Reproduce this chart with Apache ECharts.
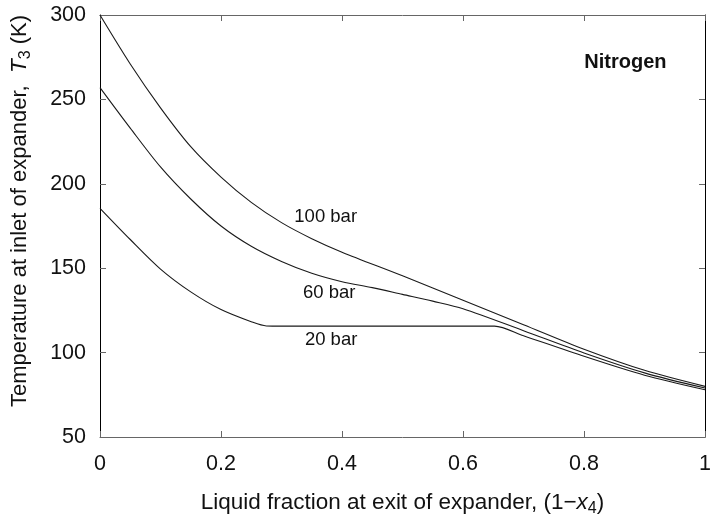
<!DOCTYPE html>
<html>
<head>
<meta charset="utf-8">
<script src="https://cdn.jsdelivr.net/npm/echarts@6/dist/echarts.min.js"></script>
<style>
html,body{margin:0;padding:0;background:#fff;}
#chart{width:714px;height:522px;}
</style>
</head>
<body>
<div id="chart"></div>
<script>
// Data
var seriesNames = ['100 bar', '60 bar', '20 bar'];
var x100 = [0, 0.05, 0.1, 0.15, 0.2, 0.25, 0.3, 0.35, 0.4, 0.5, 0.6, 0.7, 0.8, 0.9, 1];
var y100 = [300, 271, 245, 222, 204, 189, 177, 167.5, 159.5, 145.5, 131, 116.5, 102, 89.5, 80];
var x60 = [0, 0.05, 0.1, 0.15, 0.2, 0.25, 0.3, 0.35, 0.4, 0.45, 0.5, 0.55, 0.6, 0.7, 0.8, 0.9, 1];
var y60 = [257, 233, 210, 191, 175, 163, 154, 147, 142, 138.5, 134.5, 130.5, 126, 113, 99.8, 88, 79];
var x20 = [0, 0.05, 0.1, 0.15, 0.2, 0.25, 0.275, 0.3, 0.45, 0.652, 0.7, 0.8, 0.9, 1];
var y20 = [185.5, 167, 149.5, 136, 125.5, 118.3, 115.8, 115.7, 115.7, 115.7, 110, 97.8, 86.6, 78];
var labelTexts = ['100 bar', '60 bar', '20 bar', 'Nitrogen'];
var labelX = [0.373, 0.379, 0.382, 0.8685];
var labelY = [180.5, 135.3, 107.6, 271.6];
var xTicks = [0, 0.2, 0.4, 0.6, 0.8, 1];
var yTicks = [50, 100, 150, 200, 250, 300];

function zip(xs, ys) { return xs.map(function (v, i) { return [v, ys[i]]; }); }

var FONT = '"Liberation Sans", Arial, Helvetica, sans-serif';
var chart = echarts.init(document.getElementById('chart'), null, {renderer: 'canvas'});

var lineStyle = {color: '#1a1a1a', width: 1.1};
function mkSeries(name, data) {
  return {
    name: name, type: 'line', data: data, showSymbol: false, symbol: 'none',
    smooth: 0.3, lineStyle: lineStyle, silent: true, z: 3
  };
}

var annData = labelTexts.map(function (t, i) {
  return {
    coord: [labelX[i], labelY[i]], value: t,
    label: {
      show: true, formatter: t, position: 'inside',
      fontFamily: FONT, color: '#111',
      fontSize: i === 3 ? 20 : 18.5, fontWeight: i === 3 ? 'bold' : 'normal'
    }
  };
});

var series = [
  mkSeries(seriesNames[0], zip(x100, y100)),
  mkSeries(seriesNames[1], zip(x60, y60)),
  mkSeries(seriesNames[2], zip(x20, y20))
];
series[0].markPoint = {symbol: 'circle', symbolSize: 0, silent: true, data: annData};

var tickStyle = {show: true, inside: true, length: 6, lineStyle: {color: '#666', width: 1}};
var richName = {
  i: {fontFamily: FONT, fontSize: 22.5, fontStyle: 'italic', color: '#111'},
  sub: {fontFamily: FONT, fontSize: 16, color: '#111', verticalAlign: 'bottom', padding: [13, 0, 0, 0]}
};

chart.setOption({
  animation: false,
  backgroundColor: '#fff',
  grid: {left: 100, right: 3, top: 15, bottom: 76, containLabel: false},
  xAxis: [{
    type: 'value', min: 0, max: 1, interval: 0.2, position: 'bottom',
    axisLine: {show: true, lineStyle: {color: '#666', width: 1}},
    axisTick: tickStyle, splitLine: {show: false},
    axisLabel: {fontFamily: FONT, fontSize: 21.5, color: '#111', margin: 16,
      formatter: function (v) { return String(Math.round(v * 10) / 10); }},
    name: 'Liquid fraction at exit of expander, (1\u2212{i|x}{sub|4})',
    nameLocation: 'middle', nameGap: 51,
    nameTextStyle: {fontFamily: FONT, fontSize: 22.5, color: '#111', rich: richName}
  }, {
    type: 'value', min: 0, max: 1, interval: 0.2, position: 'top',
    axisLine: {show: true, onZero: false, lineStyle: {color: '#666', width: 1}},
    axisTick: tickStyle, axisLabel: {show: false}, splitLine: {show: false}
  }],
  yAxis: [{
    type: 'value', min: 50, max: 300, interval: 50, position: 'left',
    axisLine: {show: true, onZero: false, lineStyle: {color: '#000', width: 1}},
    axisTick: tickStyle, splitLine: {show: false},
    axisLabel: {fontFamily: FONT, fontSize: 21.5, color: '#111', margin: 14},
    name: 'Temperature at inlet of expander,  {i|T}{sub|3} (K)',
    nameLocation: 'middle', nameGap: 66, nameRotate: 90,
    nameTextStyle: {fontFamily: FONT, fontSize: 22, color: '#111', rich: richName,
      padding: [0, 0, 0, 30]}
  }, {
    type: 'value', min: 50, max: 300, interval: 50, position: 'right',
    axisLine: {show: true, onZero: false, lineStyle: {color: '#000', width: 1}},
    axisTick: tickStyle, axisLabel: {show: false}, splitLine: {show: false}
  }],
  series: series
});
</script>
</body>
</html>
